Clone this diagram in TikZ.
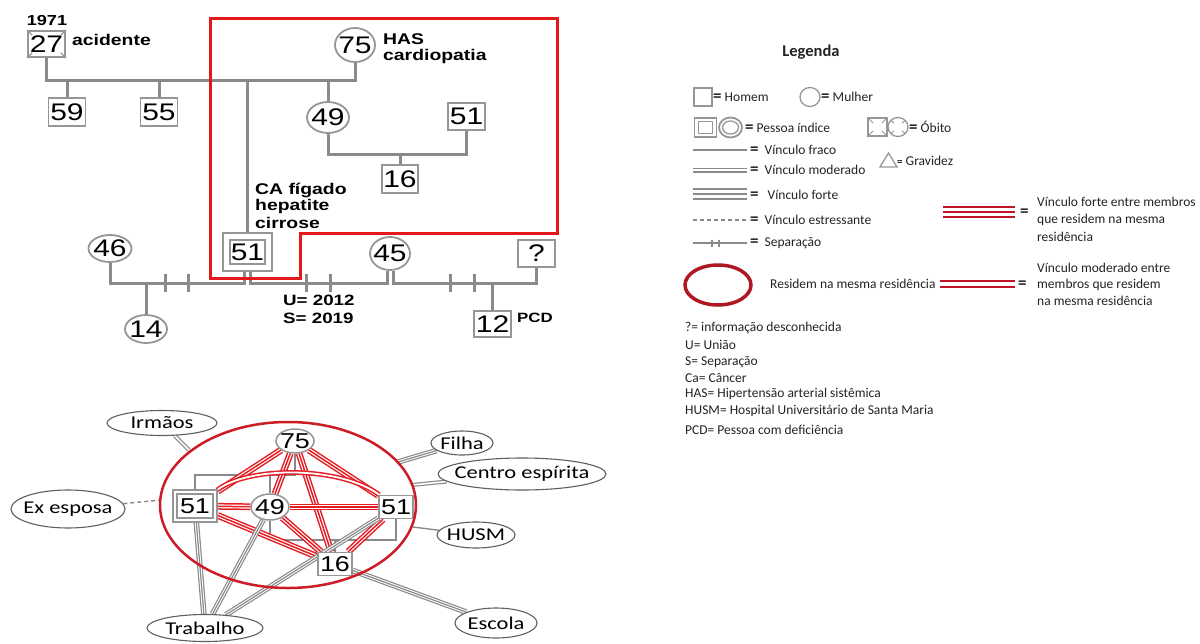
\documentclass[tikz,border=0pt]{standalone}
\usepackage{fontspec}
\setmainfont{Carlito}
\newfontfamily\geno[FakeStretch=1.25]{Liberation Sans}
\newfontfamily\netf[FakeStretch=1.25]{Carlito}
\newcommand{\eqs}{{\fontsize{17}{17}\selectfont\bfseries =}}
\usetikzlibrary{shapes.geometric,calc}
\pgfdeclarelayer{bg}
\pgfsetlayers{bg,main}
\definecolor{gl}{RGB}{138,138,138}
\definecolor{gb}{RGB}{150,150,150}
\definecolor{rr}{RGB}{226,24,28}
\definecolor{nr}{RGB}{228,30,36}
\definecolor{er}{RGB}{205,28,38}
\definecolor{dr}{RGB}{190,22,36}
\definecolor{eo}{RGB}{95,95,95}
\definecolor{tx}{RGB}{35,35,35}
\begin{document}
\begin{tikzpicture}[x=1pt,y=-1pt,
  gline/.style={draw=gl, line width=3},
  gbox/.style={rectangle, draw=gb, line width=1.8, fill=white, inner sep=0, font=\geno\fontsize{24}{26}\selectfont},
  gcirc/.style={ellipse, draw=gb, line width=1.8, fill=white, inner sep=0, font=\geno\fontsize{24}{26}\selectfont},
  glab/.style={anchor=west, inner sep=0, font=\geno\bfseries\fontsize{15.5}{17}\selectfont},
  nbox/.style={rectangle, draw=gb, line width=1.5, fill=white, inner sep=0, font=\geno\fontsize{21.5}{23}\selectfont},
  ncirc/.style={ellipse, draw=gb, line width=1.5, fill=white, inner sep=0, font=\geno\fontsize{21.5}{23}\selectfont},
  elab/.style={ellipse, draw=eo, line width=1.1, fill=white, inner sep=0, font=\netf\fontsize{18}{20}\selectfont},
  nline/.style={draw=gl, line width=2.2},
  nred3/.style={draw=nr, line width=6.8, postaction={draw=white, line width=3.8}, postaction={draw=nr, line width=1.5}},
  nred2/.style={draw=nr, line width=1.5, double=white, double distance=1.8},
  ngray3/.style={draw=gl, line width=5.6, postaction={draw=white, line width=3.2}, postaction={draw=gl, line width=1.2}},
  ngray2/.style={draw=gl, line width=1.2, double=white, double distance=1.6},
  nsingle/.style={draw=gl, line width=1.4},
  ndash/.style={draw=gl, line width=1.4, dash pattern=on 4pt off 3pt},
  ltxt/.style={anchor=west, inner sep=0, text=tx, font=\fontsize{13.5}{16}\selectfont},
]
\useasboundingbox (0,0) rectangle (1200,643);

% ---------------- top genogram ----------------
\coordinate (top) at (0,80);
\coordinate (mid) at (0,154);
\coordinate (base) at (0,283);

\node[gbox, minimum width=37, minimum height=26] (n27) at (46.5,44) {27};
\draw[gb, line width=1.2] (n27.north west) -- ++(5,5) (n27.north east) -- ++(-5,5)
  (n27.south west) -- ++(5,-5) (n27.south east) -- ++(-5,-5);
\node[glab, anchor=center, font=\geno\bfseries\fontsize{14.5}{16}\selectfont] (y1971) at (47,21) {1971};
\node[glab] (acid) at (72,40) {acidente};
\node[gbox, minimum width=37, minimum height=28] (n59) at (67,112) {59};
\node[gbox, minimum width=37, minimum height=28] (n55) at (159,112) {55};
\node[gcirc, minimum width=40, minimum height=34] (n75) at (355,45) {\makebox[0pt]{75}};
\node[glab] (has) at (383,39) {HAS};
\node[glab] (card) at (383,56) {cardiopatia};
\node[gcirc, minimum width=42, minimum height=31] (n49) at (328,117.5) {\makebox[0pt]{49}};
\node[gbox, minimum width=37, minimum height=27] (r51) at (466.5,116.5) {51};
\node[gbox, minimum width=36, minimum height=28] (n16) at (400,179) {16};
\node[glab] (ca1) at (255,190) {CA fígado};
\node[glab] (ca2) at (255,206.5) {hepatite};
\node[glab] (ca3) at (255,223) {cirrose};
\node[gbox, minimum width=49, minimum height=38] (i51) at (247.5,252) {};
\node[gbox, minimum width=35, minimum height=24] (i51t) at (247.5,252) {51};
\node[gcirc, minimum width=40, minimum height=33] (n45) at (390,253.5) {\makebox[0pt]{45}};
\node[gbox, minimum width=37, minimum height=27] (q) at (536.5,253.5) {?};
\node[gcirc, minimum width=43, minimum height=27] (n46) at (110,248.5) {\makebox[0pt]{46}};
\node[gcirc, minimum width=42, minimum height=28] (n14) at (146,329) {\makebox[0pt]{14}};
\node[gbox, minimum width=37, minimum height=26] (n12) at (492.5,324) {12};
\node[glab, font=\geno\bfseries\fontsize{13.5}{15}\selectfont] (pcd) at (517,318) {PCD};
\node[glab, font=\geno\bfseries\fontsize{15}{17}\selectfont] (uu) at (283,300) {U= 2012};
\node[glab, font=\geno\bfseries\fontsize{15}{17}\selectfont] (ss) at (283,318) {S= 2019};

\coordinate (a1) at ($(i51.south)+(-3,0)$);
\coordinate (a2) at ($(i51.south)+(3,0)$);
\coordinate (a3) at ($(n45.south)+(-3,0)$);
\coordinate (a4) at ($(n45.south)+(3,0)$);

\draw[rr, line width=3] (210,18) -- (557,18) -- (557,233) -- (300,233) -- (300,278) -- (210,278) -- cycle;

\begin{pgfonlayer}{bg}
\draw[gline] (n27) -- (n27 |- top) -- (n75 |- top) -- (n75);
\draw[gline] (n59) -- (n59 |- top);
\draw[gline] (n55) -- (n55 |- top);
\draw[gline] (i51) -- (i51 |- top);
\draw[gline] (n49) -- (n49 |- top);
\draw[gline] (n49) -- (n49 |- mid) -- (r51 |- mid) -- (r51);
\draw[gline] (n16) -- (n16 |- mid);
\draw[gline] (n46) -- (n46 |- base) -- (a1 |- base) -- (a1);
\draw[gline] (n14) -- (n14 |- base);
\draw[gline] (a2) -- (a2 |- base) -- (a3 |- base) -- (a3);
\draw[gline] (a4) -- (a4 |- base) -- (q |- base) -- (q);
\draw[gline] (n12) -- (n12 |- base);
\foreach \hx in {165,188,306,330,450,474} \draw[gline] (\hx,274) -- (\hx,292);
\end{pgfonlayer}

% ---------------- network ----------------
\coordinate (nt) at (0,475);
\coordinate (nm) at (0,540);
\node[ncirc, minimum width=38, minimum height=24] (m75) at (295,441) {\makebox[0pt]{75}};
\node[nbox, minimum width=44, minimum height=32] (mL) at (195,506) {};
\node[nbox, minimum width=36, minimum height=24] (mLt) at (195,506) {51};
\node[ncirc, minimum width=38, minimum height=26] (m49) at (270,507) {\makebox[0pt]{49}};
\node[nbox, minimum width=34, minimum height=23] (mR) at (396,507) {51};
\node[nbox, minimum width=34, minimum height=23] (m16) at (335,564) {16};

\node[elab, minimum width=110, minimum height=25] (irm) at (162,423) {\makebox[0pt]{Irmãos}};
\node[elab, minimum width=114, minimum height=38] (exe) at (68,509) {\makebox[0pt]{Ex esposa}};
\node[elab, minimum width=116, minimum height=27] (trab) at (205,628) {\makebox[0pt]{Trabalho}};
\node[elab, minimum width=62, minimum height=24] (fil) at (462,443) {\makebox[0pt]{Filha}};
\node[elab, minimum width=168, minimum height=32] (cen) at (522,474) {\makebox[0pt]{Centro espírita}};
\node[elab, minimum width=78, minimum height=26] (husm) at (476,535) {\makebox[0pt]{HUSM}};
\node[elab, minimum width=82, minimum height=30] (esc) at (496,623) {\makebox[0pt]{Escola}};

\draw[er, line width=2.5] (288,505) ellipse [x radius=128, y radius=83];

\coordinate (irmE) at (189,450);
\coordinate (exeE) at (161,500);
\coordinate (filE) at (398,462);
\coordinate (cenE) at (412,485);
\coordinate (husE) at (413,527);

\begin{pgfonlayer}{bg}
\draw[nline] (mL) -- (mL |- nt) -| (m75);
\draw[nline] (m49) -- (m49 |- nt);
\draw[nline] (m49) -- (m49 |- nm) -- (mR |- nm) -- (mR);
\draw[nline] (m16) -- (m16 |- nm);
\foreach \a/\b in {m75/mL, m75/m49, m75/m16, m75/mR, mL/m49, mL/m16, m49/mR, m49/m16, mR/m16}
  \draw[nred3] (\a) -- (\b);
\draw[nred2] (mL) .. controls (250,466) and (340,466) .. (mR);
\draw[ngray3] (trab) -- (mL);
\draw[ngray3] (trab) -- (m49);
\draw[ngray3] (trab) -- (mR);
\draw[ngray3] (m16) -- (esc);
\draw[ngray3] (fil) -- (filE);
\draw[ngray2] (irm) -- (irmE);
\draw[ngray2] (cen) -- (cenE);
\draw[nsingle] (husm) -- (husE);
\draw[ndash] (exe) -- (exeE);
\end{pgfonlayer}

% ---------------- legend ----------------
\node[ltxt, anchor=center, font=\bfseries\fontsize{16.5}{18}\selectfont] (leg) at (811,52) {Legenda};

\draw[gb, line width=1.3] (694,88) rectangle (712,106);
\node[ltxt] (lh) at (713,97) {\eqs\ Homem};
\draw[gb, line width=1.3] (810,97) ellipse [x radius=10, y radius=9.5];
\node[ltxt] (lm) at (821,97) {\eqs\ Mulher};

\draw[gb, line width=1.8] (694.5,118) rectangle (716.5,137);
\draw[gb, line width=1.3] (698.5,121.5) rectangle (712.5,133.5);
\draw[gb, line width=1.8] (730.5,127.5) ellipse [x radius=11.5, y radius=10];
\draw[gb, line width=1.3] (730.5,127.5) ellipse [x radius=8, y radius=6.5];
\node[ltxt] (lp) at (745,128) {\eqs\ Pessoa índice};

\draw[gb, line width=1.3] (868,118) rectangle (887,136);
\draw[gb, line width=1] (868,118) -- (873,123) (887,118) -- (882,123) (868,136) -- (873,131) (887,136) -- (882,131);
\draw[gb, line width=1.3] (898,127) ellipse [x radius=10, y radius=9.5];
\draw[gb, line width=1] (905.1,120.3) -- (902,123.2) (890.9,120.3) -- (894,123.2) (905.1,133.7) -- (902,130.8) (890.9,133.7) -- (894,130.8);
\node[ltxt] (lo) at (909,127) {\eqs\ Óbito};

\draw[gl, line width=1.6] (693,150) -- (747,150);
\node[ltxt] (lf) at (750,150) {\eqs\hspace{6pt}Vínculo fraco};
\draw[gb, line width=1.3] (880,167) -- (888.5,153) -- (897,167) -- cycle;
\node[ltxt] (lg) at (897,161) {{\fontsize{11}{11}\selectfont\bfseries=} Gravidez};
\draw[gl, line width=1.5, double=white, double distance=2] (693,170) -- (747,170);
\node[ltxt] (lmo) at (750,170) {\eqs\hspace{6pt}Vínculo moderado};
\draw[gl, line width=1.6] (693,189) -- (747,189) (693,194) -- (747,194) (693,199) -- (747,199);
\node[ltxt] (lfo) at (750,195) {\eqs\hspace{9pt}Vínculo forte};
\draw[gl, line width=1.4, dash pattern=on 4pt off 3pt] (693,220) -- (747,220);
\node[ltxt] (les) at (750,220) {\eqs\hspace{6pt}Vínculo estressante};
\draw[gl, line width=1.4] (693,243) -- (747,243) (712,239.5) -- (712,246.5) (719,239.5) -- (719,246.5);
\node[ltxt] (lse) at (750,243) {\eqs\hspace{6pt}Separação};

\draw[dr, line width=2.4] (943,207) -- (1015,207) (943,212) -- (1015,212) (943,217) -- (1015,217);
\node[ltxt] (eq1) at (1020,213) {\eqs};
\node[ltxt] (rf1) at (1037,202) {Vínculo forte entre membros};
\node[ltxt] (rf2) at (1037,220) {que residem na mesma};
\node[ltxt] (rf3) at (1037,237) {residência};

\draw[er!85!black, line width=3.5] (718,285) ellipse [x radius=33, y radius=20];
\node[ltxt] (lres) at (770,284) {Residem na mesma residência};
\draw[dr, line width=2.5] (940,281) -- (1015,281) (940,287) -- (1015,287);
\node[ltxt] (eq2) at (1018,285) {\eqs};
\node[ltxt] (rm1) at (1037,268) {Vínculo moderado entre};
\node[ltxt] (rm2) at (1037,285) {membros que residem};
\node[ltxt] (rm3) at (1037,301) {na mesma residência};

\node[ltxt] (ab1) at (685,328) {?= informação desconhecida};
\node[ltxt] (ab2) at (685,345) {U= União};
\node[ltxt] (ab3) at (685,362) {S= Separação};
\node[ltxt] (ab4) at (685,378) {Ca= Câncer};
\node[ltxt] (ab5) at (685,394) {HAS= Hipertensão arterial sistêmica};
\node[ltxt] (ab6) at (685,411) {HUSM= Hospital Universitário de Santa Maria};
\node[ltxt] (ab7) at (685,430) {PCD= Pessoa com deficiência};
\end{tikzpicture}
\end{document}
